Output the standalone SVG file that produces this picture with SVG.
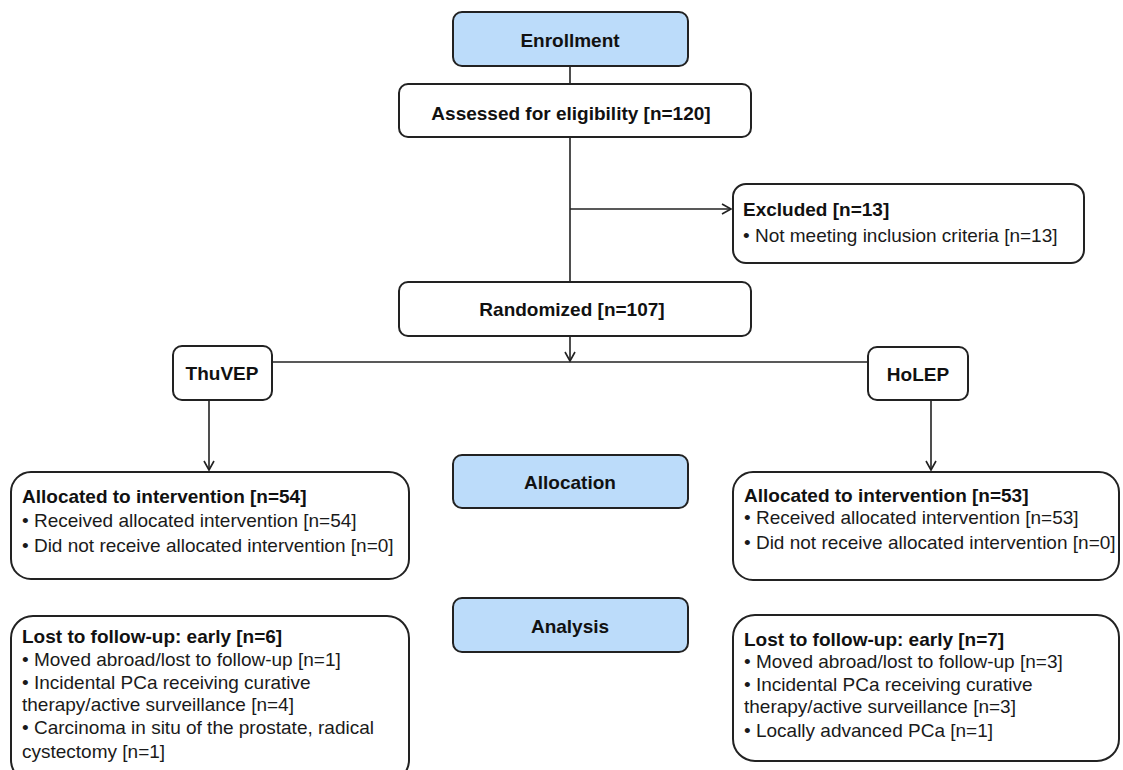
<svg xmlns="http://www.w3.org/2000/svg" width="1123" height="770" viewBox="0 0 1123 770">
<defs>
<style>
.box{fill:#fff;stroke:#222;stroke-width:2}
.blue{fill:#bcdcfa;stroke:#222;stroke-width:2}
.t{font-family:"Liberation Sans",Arial,sans-serif;font-size:19px;fill:#1a1a1a}
.b{font-weight:bold;fill:#111}
.c{text-anchor:middle}
.ln{fill:none;stroke:#222;stroke-width:1.6}
</style>
<marker id="ah" markerWidth="12" markerHeight="12" refX="10" refY="6" orient="auto" markerUnits="userSpaceOnUse">
<path d="M1,1 L10,6 L1,11" fill="none" stroke="#222" stroke-width="1.6"/>
</marker>
</defs>
<rect width="1123" height="770" fill="#fff"/>
<g id="connectors">
<line class="ln" x1="570" y1="66" x2="570" y2="84"/>
<line class="ln" x1="570" y1="137" x2="570" y2="282"/>
<line class="ln" x1="570" y1="209" x2="731" y2="209" marker-end="url(#ah)"/>
<line class="ln" x1="570" y1="336" x2="570" y2="361" marker-end="url(#ah)"/>
<line class="ln" x1="272" y1="362" x2="868" y2="362"/>
<line class="ln" x1="209" y1="400" x2="209" y2="470" marker-end="url(#ah)"/>
<line class="ln" x1="931" y1="400" x2="931" y2="470" marker-end="url(#ah)"/>
</g>
<g id="enrollment">
<rect class="blue" x="453" y="12" width="235" height="54" rx="9"/>
<text class="t b c" x="570" y="47">Enrollment</text>
</g>
<g id="assessed">
<rect class="box" x="399" y="84" width="352" height="53" rx="9"/>
<text class="t b c" x="571" y="120">Assessed for eligibility [n=120]</text>
</g>
<g id="excluded">
<rect class="box" x="733" y="184" width="351" height="79" rx="13"/>
<text class="t b" x="743" y="216">Excluded [n=13]</text>
<text class="t" x="743" y="242">• Not meeting inclusion criteria [n=13]</text>
</g>
<g id="randomized">
<rect class="box" x="399" y="282" width="352" height="54" rx="9"/>
<text class="t b c" x="572" y="316">Randomized [n=107]</text>
</g>
<g id="thuvep">
<rect class="box" x="173" y="346" width="99" height="54" rx="9"/>
<text class="t b c" x="222" y="380">ThuVEP</text>
</g>
<g id="holep">
<rect class="box" x="868" y="347" width="100" height="53" rx="9"/>
<text class="t b c" x="918" y="381">HoLEP</text>
</g>
<g id="allocation">
<rect class="blue" x="453" y="455" width="235" height="53" rx="9"/>
<text class="t b c" x="570" y="489">Allocation</text>
</g>
<g id="analysis">
<rect class="blue" x="453" y="598" width="235" height="54" rx="9"/>
<text class="t b c" x="570" y="633">Analysis</text>
</g>
<g id="alloc-left">
<rect class="box" x="11" y="472" width="398" height="107" rx="20"/>
<text class="t b" x="22" y="503">Allocated to intervention  [n=54]</text>
<text class="t" x="22" y="527">• Received allocated intervention [n=54]</text>
<text class="t" x="22" y="552">• Did not receive allocated intervention [n=0]</text>
</g>
<g id="alloc-right">
<rect class="box" x="733" y="472" width="386" height="108" rx="20"/>
<text class="t b" x="744" y="502">Allocated to intervention  [n=53]</text>
<text class="t" x="744" y="524">• Received allocated intervention [n=53]</text>
<text class="t" x="744" y="549">• Did not receive allocated intervention [n=0]</text>
</g>
<g id="lost-left">
<rect class="box" x="11" y="616" width="398" height="166" rx="22"/>
<text class="t b" x="22" y="643">Lost to follow-up:  early [n=6]</text>
<text class="t" x="22" y="666">• Moved abroad/lost to follow-up [n=1]</text>
<text class="t" x="22" y="689">• Incidental PCa receiving curative</text>
<text class="t" x="22" y="711">therapy/active surveillance [n=4]</text>
<text class="t" x="22" y="734">• Carcinoma in situ of the prostate, radical</text>
<text class="t" x="22" y="758">cystectomy [n=1]</text>
</g>
<g id="lost-right">
<rect class="box" x="733" y="615" width="386" height="146" rx="22"/>
<text class="t b" x="744" y="646">Lost to follow-up:  early [n=7]</text>
<text class="t" x="744" y="668">• Moved abroad/lost to follow-up [n=3]</text>
<text class="t" x="744" y="691">• Incidental PCa receiving curative</text>
<text class="t" x="744" y="713">therapy/active surveillance [n=3]</text>
<text class="t" x="744" y="737">• Locally advanced PCa [n=1]</text>
</g>
</svg>
